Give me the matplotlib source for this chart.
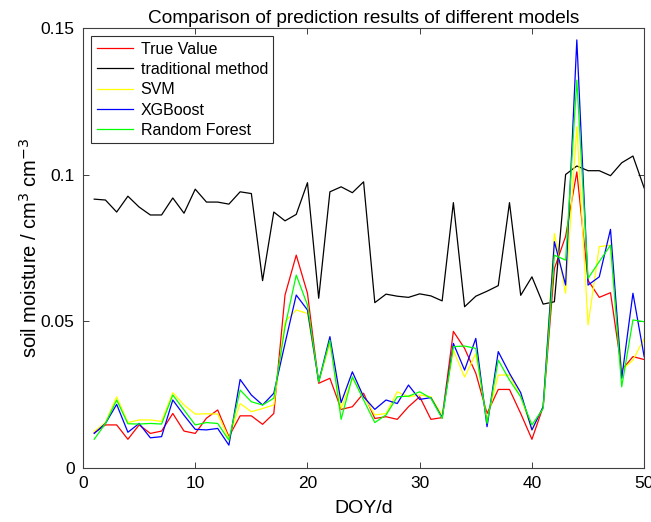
import matplotlib
matplotlib.use("Agg")
import matplotlib.pyplot as plt
import numpy as np

plt.rcParams['font.family'] = ['Liberation Sans', 'DejaVu Sans']

doy = list(range(1, 51))

true_value = [0.012, 0.0147, 0.0147, 0.0098, 0.0147, 0.0118, 0.0126, 0.0186, 0.0126, 0.0118,
              0.0170, 0.0198, 0.0107, 0.0178, 0.0178, 0.0149, 0.0186, 0.0590, 0.0726, 0.0596,
              0.0289, 0.0306, 0.0200, 0.0209, 0.0255, 0.0169, 0.0175, 0.0166, 0.0209, 0.0243,
              0.0166, 0.0172, 0.0466, 0.0408, 0.0323, 0.0186, 0.0268, 0.0268, 0.0186, 0.0098,
              0.0209, 0.0680, 0.0790, 0.1010, 0.0640, 0.0582, 0.0598, 0.0334, 0.0380, 0.0370]

traditional = [0.0917, 0.0914, 0.0873, 0.0927, 0.0890, 0.0863, 0.0863, 0.0921, 0.0869, 0.0951,
               0.0907, 0.0907, 0.0900, 0.0942, 0.0936, 0.0639, 0.0873, 0.0843, 0.0865, 0.0973,
               0.0579, 0.0942, 0.0959, 0.0939, 0.0976, 0.0564, 0.0593, 0.0586, 0.0582, 0.0594,
               0.0587, 0.0570, 0.0905, 0.0550, 0.0586, 0.0603, 0.0622, 0.0905, 0.0589, 0.0652,
               0.0559, 0.0567, 0.1001, 0.1030, 0.1014, 0.1014, 0.0997, 0.1041, 0.1064, 0.0955]

svm = [0.0125, 0.0155, 0.0243, 0.0155, 0.0164, 0.0164, 0.0159, 0.0257, 0.0215, 0.0184,
       0.0185, 0.0184, 0.0101, 0.0220, 0.0192, 0.0203, 0.0215, 0.0499, 0.0539, 0.0527,
       0.0294, 0.0425, 0.0203, 0.0306, 0.0245, 0.0181, 0.0186, 0.0260, 0.0243, 0.0249,
       0.0243, 0.0181, 0.0402, 0.0310, 0.0390, 0.0164, 0.0317, 0.0317, 0.0243, 0.0130,
       0.0209, 0.0800, 0.0596, 0.1164, 0.0488, 0.0755, 0.0760, 0.0334, 0.0368, 0.0442]

xgboost = [0.0118, 0.0152, 0.0217, 0.0122, 0.0152, 0.0103, 0.0107, 0.0232, 0.0180, 0.0132,
           0.0130, 0.0135, 0.0078, 0.0302, 0.0249, 0.0215, 0.0255, 0.0425, 0.0590, 0.0539,
           0.0294, 0.0448, 0.0223, 0.0328, 0.0243, 0.0200, 0.0232, 0.0220, 0.0283, 0.0234,
           0.0240, 0.0172, 0.0425, 0.0334, 0.0442, 0.0141, 0.0397, 0.0323, 0.0257, 0.0130,
           0.0209, 0.0772, 0.0624, 0.1460, 0.0624, 0.0652, 0.0814, 0.0306, 0.0596, 0.0380]

random_forest = [0.0098, 0.0152, 0.0232, 0.0151, 0.0150, 0.0152, 0.0150, 0.0249, 0.0198, 0.0147,
                 0.0155, 0.0152, 0.0095, 0.0266, 0.0226, 0.0215, 0.0238, 0.0482, 0.0658, 0.0556,
                 0.0294, 0.0436, 0.0166, 0.0311, 0.0232, 0.0155, 0.0181, 0.0243, 0.0245, 0.0260,
                 0.0238, 0.0169, 0.0414, 0.0416, 0.0408, 0.0152, 0.0368, 0.0300, 0.0243, 0.0147,
                 0.0203, 0.0726, 0.0709, 0.1323, 0.0647, 0.0704, 0.0760, 0.0277, 0.0505, 0.0499]

x_ticks = [0, 10, 20, 30, 40, 50]
y_ticks = [0, 0.05, 0.1, 0.15]
y_tick_labels = ['0', '0.05', '0.1', '0.15']

fig = plt.figure(figsize=(6.51, 5.22), dpi=100)
ax = fig.add_axes([0.1275, 0.1034, 0.8620, 0.8426])

lw = 0.9
ax.plot(doy, true_value, color='#ff0000', lw=lw, label='True Value')
ax.plot(doy, traditional, color='#000000', lw=lw, label='traditional method')
ax.plot(doy, svm, color='#ffff00', lw=lw, label='SVM')
ax.plot(doy, xgboost, color='#0000ff', lw=lw, label='XGBoost')
ax.plot(doy, random_forest, color='#00ff00', lw=lw, label='Random Forest')

ax.set_xlim(0, 50)
ax.set_ylim(0, 0.15)
ax.set_xticks(x_ticks)
ax.set_yticks(y_ticks)
ax.set_yticklabels(y_tick_labels)
ax.tick_params(direction='in', top=True, right=True, labelsize=12.5, length=4,
               color='#404040', width=0.7, pad=6)
for s in ax.spines.values():
    s.set_color('#404040')
    s.set_linewidth(0.8)

ax.set_xlabel('DOY/d', fontsize=14, labelpad=6)
ax.set_ylabel('soil moisture / cm$^{3}$ cm$^{-3}$', fontsize=14.5, labelpad=0)
ax.set_title('Comparison of prediction results of different models', fontsize=13.7, pad=4)

leg = ax.legend(loc='upper left', fontsize=11.5, frameon=True, fancybox=False,
                edgecolor='#303030', framealpha=1, handlelength=2.3, handletextpad=0.45,
                borderpad=0.35, labelspacing=0.33, borderaxespad=0.5)
leg.get_frame().set_linewidth(0.8)

fig.savefig('out.png', dpi=100)
